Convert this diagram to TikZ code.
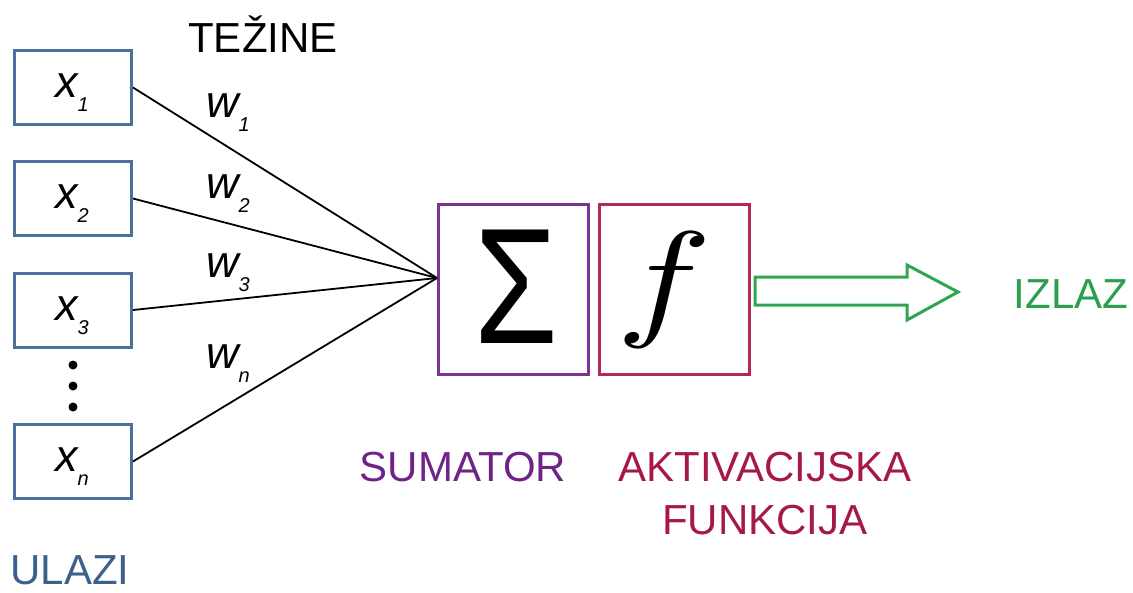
\documentclass[tikz,border=0pt]{standalone}
\usepackage{fontspec}
\setmainfont{Liberation Sans}
\definecolor{inblue}{RGB}{74,112,158}
\definecolor{intext}{RGB}{60,96,140}
\definecolor{sumcol}{RGB}{125,50,150}
\definecolor{sumtext}{RGB}{110,36,135}
\definecolor{actcol}{RGB}{180,40,85}
\definecolor{acttext}{RGB}{165,24,75}
\definecolor{outcol}{RGB}{46,165,78}
\definecolor{outtext}{RGB}{44,158,76}
\newcommand{\bigtxt}{\fontsize{42}{48}\selectfont}
\newcommand{\vartxt}{\fontsize{45}{48}\selectfont}
\newcommand{\subtxt}{\fontsize{20}{20}\selectfont}
\newcommand{\varsub}[2]{{\itshape #1\raisebox{-14pt}{\subtxt #2}}}
\tikzset{
  inbox/.style={draw=inblue, line width=3pt, minimum width=117pt, minimum height=74pt, inner sep=0pt},
  opbox/.style={line width=3pt, minimum width=150pt, minimum height=170pt, inner sep=0pt},
  conn/.style={line width=1.8pt, black},
  lbl/.style={font=\bigtxt, inner sep=0pt, anchor=base},
  vlbl/.style={font=\vartxt, inner sep=0pt, anchor=base west},
}
\begin{document}
\begin{tikzpicture}[x=1pt, y=-1pt]
\useasboundingbox (0,0) rectangle (1133,592);
% input boxes
\node[inbox] (x1) at (73,87.5) {};
\node[inbox] (x2) at (73,198.5) {};
\node[inbox] (x3) at (73,310) {};
\node[inbox] (xn) at (73,461.5) {};
\node[vlbl] (x1l) at (55,97) {\varsub{x}{1}};
\node[vlbl] (x2l) at (55,208) {\varsub{x}{2}};
\node[vlbl] (x3l) at (55,320) {\varsub{x}{3}};
\node[vlbl] (xnl) at (55,471) {\varsub{x}{n}};
% dots
\fill (73,365) circle (4.5pt);
\fill (73,386) circle (4.5pt);
\fill (73,407) circle (4.5pt);
% operator boxes
\node[opbox, draw=sumcol] (sum) at (513.5,289.5) {};
\node[opbox, draw=actcol] (act) at (674,289.5) {};
\node[inner sep=0pt] (sigma) at (516,287) {\fontsize{165}{165}\selectfont\scalebox{0.82}[1]{Σ}};
\node[inner sep=0pt] (fsym) at (664,290) {\scalebox{16}[13]{$f$}};
\coordinate (conv) at (437,278);
% connectors
\draw[conn] (x1.east) -- (conv);
\draw[conn] (x2.east) -- (conv);
\draw[conn] (x3.east) -- (conv);
\draw[conn] (xn.east) -- (conv);
% weights
\node[vlbl] (w1) at (206,117) {\varsub{w}{1}};
\node[vlbl] (w2) at (206,198) {\varsub{w}{2}};
\node[vlbl] (w3) at (206,277) {\varsub{w}{3}};
\node[vlbl] (wn) at (206,368) {\varsub{w}{n}};
% output arrow
\draw[outcol, line width=3pt, line join=miter] (755,277) -- (907,277) -- (907,265) -- (958,292) -- (907,320) -- (907,305) -- (755,305) -- cycle;
% texts
\node[lbl] (tezine) at (263,52) {TEŽINE};
\node[lbl, text=intext, text depth=0pt] (ulazi) at (70,584) {ULAZI};
\node[lbl, text=sumtext] (sumator) at (463,481) {SUMATOR};
\node[lbl, text=acttext] (akt) at (765,481) {AKTIVACIJSKA};
\node[lbl, text=acttext] (funk) at (765,534) {FUNKCIJA};
\node[lbl, text=outtext] (izlaz) at (1071,308) {IZLAZ};
\end{tikzpicture}
\end{document}
